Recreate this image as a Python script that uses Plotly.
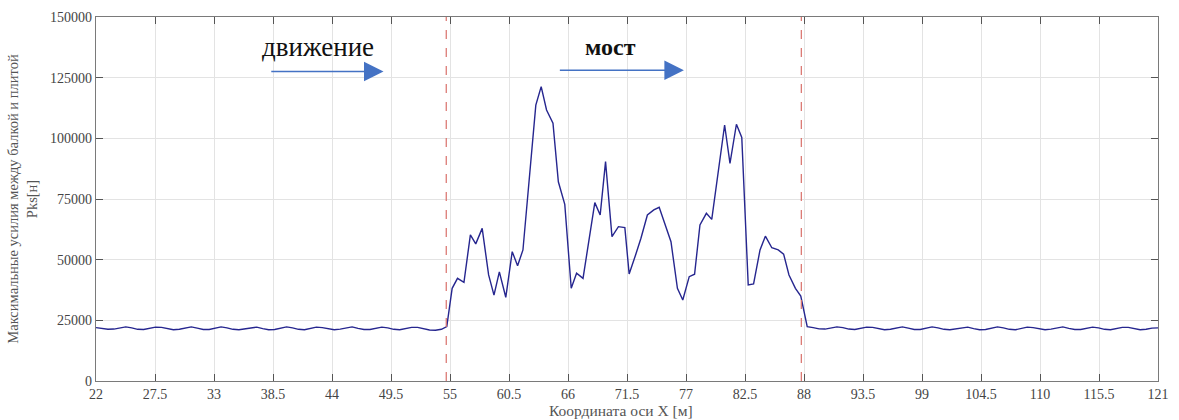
import numpy as np
import plotly.graph_objects as go

# Baseline approach section (before the bridge), Pks in N
left_vals = [22000, 21700, 21300, 21400, 21900, 22300, 21900, 21300, 21200, 21600,
             22200, 22100, 21500, 21100, 21300, 21900, 22300, 21800, 21200, 21200,
             21700, 22300, 21900, 21300, 21100, 21500, 22100, 22200, 21600, 21100,
             21200, 21800, 22300, 21900, 21300, 21100, 21600, 22200, 22000, 21400,
             21100, 21400, 22000, 22300, 21700, 21200, 21200, 21700, 22200, 21900,
             21300, 21100, 21500, 22100, 22100, 21500, 21000, 20900, 21300]

# Bridge section: coordinate [m] and force [N]
bridge_x = [54.7, 55.2, 55.7, 56.3, 56.9, 57.4, 58.0, 58.6, 59.1, 59.6,
            60.2, 60.8, 61.3, 61.8, 63.0, 63.5, 64.0, 64.6, 65.1, 65.7,
            66.3, 66.8, 67.4, 67.9, 68.5, 69.0, 69.5, 70.1, 70.7, 71.3,
            71.7, 72.3, 72.8, 73.4, 74.0, 74.5, 75.1, 75.6, 76.2, 76.7,
            77.3, 77.8, 78.3, 78.9, 79.4, 80.6, 81.1, 81.7, 82.2, 82.8,
            83.3, 83.9, 84.4, 85.0, 85.6, 86.1, 86.6, 87.2, 87.7]
bridge_vals = [22400, 38200, 42300, 40700, 60200, 56500, 62900, 43700, 35400, 45000,
               34500, 53300, 47500, 54000, 113700, 121300, 111700, 106200, 82100, 72800,
               38200, 44400, 42300, 56000, 73500, 68400, 90400, 59500, 63600, 63200,
               44100, 51900, 58800, 68400, 70500, 71600, 63600, 57400, 38200, 33400,
               43000, 44000, 64300, 69100, 66600, 105500, 89700, 105800, 100400, 39600,
               40000, 54000, 59700, 54900, 54000, 52300, 43700, 38200, 35000]

# Baseline section after the bridge
right_vals = [22400, 22000, 21500, 21400, 21800, 22300, 22000, 21400, 21200, 21600,
              22200, 22100, 21500, 21100, 21300, 21900, 22300, 21800, 21200, 21200,
              21700, 22300, 21900, 21300, 21100, 21500, 22100, 22200, 21600, 21100,
              21200, 21800, 22300, 21900, 21300, 21100, 21600, 22200, 22000, 21400,
              21100, 21400, 22000, 22300, 21700, 21200, 21200, 21700, 22200, 21900,
              21300, 21100, 21500, 22100, 22100, 21500, 21100, 21300, 21800, 21900]

bridge_start, bridge_end = 54.65, 87.75
x_ticks = [22, 27.5, 33, 38.5, 44, 49.5, 55, 60.5, 66, 71.5, 77, 82.5, 88,
           93.5, 99, 104.5, 110, 115.5, 121]
y_ticks = [0, 25000, 50000, 75000, 100000, 125000, 150000]

x_left = np.linspace(22, 54.2, len(left_vals))
x_right = np.linspace(88.3, 121, len(right_vals))
xs = list(x_left) + bridge_x + list(x_right)
ys = left_vals + bridge_vals + right_vals

serif = "Liberation Serif, Times New Roman, serif"
axis_col = "#7a7a7a"
grid_col = "#e3e3e3"

fig = go.Figure()
fig.add_trace(go.Scatter(x=xs, y=ys, mode="lines",
                         line=dict(color="#26268f", width=1.4),
                         showlegend=False, hoverinfo="skip"))

for xv in (bridge_start, bridge_end):
    fig.add_shape(type="line", xref="x", yref="paper", x0=xv, x1=xv, y0=0, y1=1,
                  line=dict(color="#d9706a", width=1.2, dash="dash"))

arrow_col = "#4472c4"
arrows = [(38.2, 48.8, 127500), (65.1, 76.8, 128100)]
for x0, x1, yv in arrows:
    fig.add_annotation(x=x1, y=yv, ax=x0, ay=yv, xref="x", yref="y",
                       axref="x", ayref="y", text="", showarrow=True,
                       arrowhead=2, arrowsize=2.6, arrowwidth=1.5,
                       arrowcolor=arrow_col)

fig.add_annotation(x=42.7, y=137800, text="движение", showarrow=False,
                   font=dict(family=serif, size=27, color="#111"))
fig.add_annotation(x=70.0, y=137800, text="<b>мост</b>", showarrow=False,
                   font=dict(family=serif, size=24, color="#111"))

# x-axis caption, slightly left of the plot centre
fig.add_annotation(x=0.494, y=-0.08, xref="paper", yref="paper",
                   text="Координата оси X [м]", showarrow=False,
                   yanchor="middle",
                   font=dict(family=serif, size=15.5, color="#555"))

fig.update_layout(
    width=1179, height=420,
    margin=dict(l=96, r=21, t=17, b=39),
    plot_bgcolor="white", paper_bgcolor="white",
    font=dict(family=serif, size=13, color="#444"),
    xaxis=dict(range=[22, 121], tickvals=x_ticks,
               ticktext=[f"{v:g}" for v in x_ticks],
               showgrid=True, gridcolor=grid_col, gridwidth=1,
               showline=True, linecolor=axis_col, linewidth=1.2, mirror="ticks",
               ticks="inside", ticklen=7, tickcolor="#555",
               zeroline=False, automargin=False,
               tickfont=dict(family=serif, size=14, color="#444")),
    yaxis=dict(range=[0, 150000], tickvals=y_ticks, tickformat="d",
               showgrid=True, gridcolor=grid_col, gridwidth=1,
               showline=True, linecolor=axis_col, linewidth=1.2, mirror="ticks",
               ticks="inside", ticklen=7, tickcolor="#555",
               zeroline=False, automargin=False,
               tickfont=dict(family=serif, size=14, color="#444"),
               title=dict(text="Максимальные усилия между балкой и плитой<br>Pks[н]",
                          standoff=9,
                          font=dict(family=serif, size=14.5, color="#555"))),
)

fig.write_html("out.html")
